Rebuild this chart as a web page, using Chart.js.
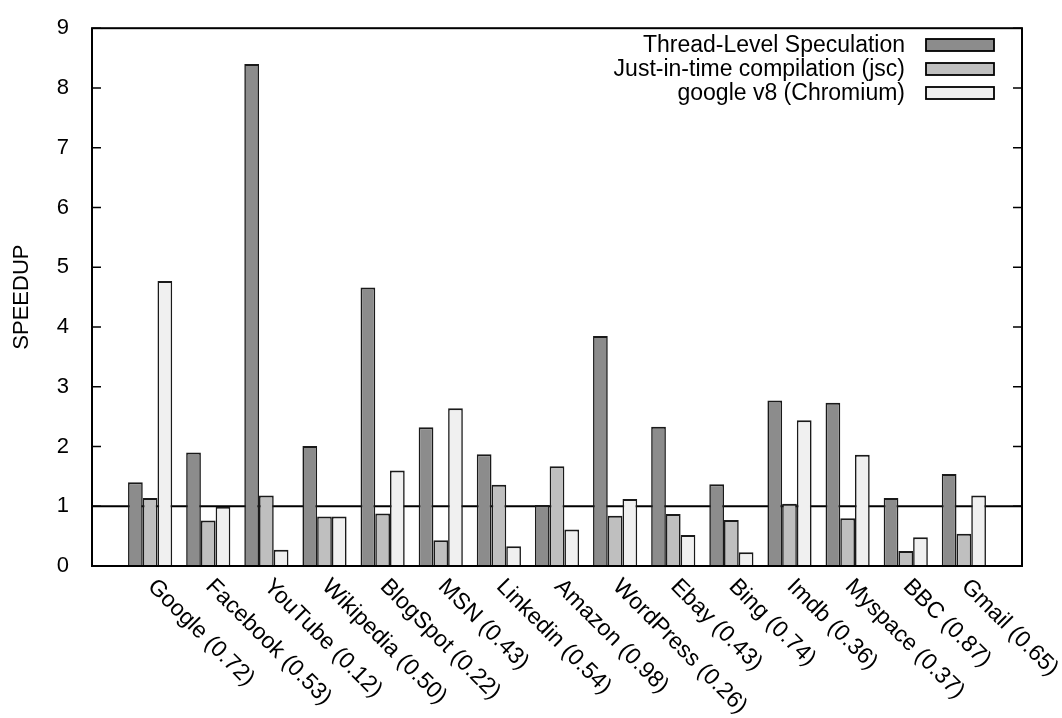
<!DOCTYPE html>
<html>
<head>
<meta charset="utf-8">
<script src="https://cdn.jsdelivr.net/npm/chart.js@4.4.1/dist/chart.umd.min.js"></script>
<style>
    body { margin: 0; background: #ffffff; }
    #wrap { width: 1062px; height: 718px; }
</style>
</head>
<body>
<div id="wrap"><canvas id="speedupChart" width="1062" height="718"></canvas></div>
<script>
const sites = [
    "Google (0.72)", "Facebook (0.53)", "YouTube (0.12)", "Wikipedia (0.50)",
    "BlogSpot (0.22)", "MSN (0.43)", "Linkedin (0.54)", "Amazon (0.98)",
    "WordPress (0.26)", "Ebay (0.43)", "Bing (0.74)", "Imdb (0.36)",
    "Myspace (0.37)", "BBC (0.87)", "Gmail (0.65)"
];

const seriesNames = [
    "Thread-Level Speculation",
    "Just-in-time compilation (jsc)",
    "google v8 (Chromium)"
];

const tls = [1.40, 1.90, 8.40, 2.01, 4.66, 2.32, 1.87, 1.02, 3.85, 2.33, 1.37, 2.77, 2.73, 1.14, 1.54];
const jsc = [1.14, 0.76, 1.18, 0.83, 0.88, 0.43, 1.36, 1.67, 0.84, 0.87, 0.77, 1.04, 0.80, 0.25, 0.54];
const v8 = [4.77, 0.99, 0.27, 0.83, 1.60, 2.64, 0.33, 0.61, 1.12, 0.52, 0.23, 2.44, 1.86, 0.48, 1.18];

const yTicks = [0, 1, 2, 3, 4, 5, 6, 7, 8, 9];
const baseline = 1;

const colors = ["#8c8c8c", "#bfbfbf", "#f0f0f0"];
const FONT = "Liberation Sans, Arial, Helvetica, sans-serif";

function toPoints(values) {
    return values.map((v, i) => ({ x: i, y: v }));
}

// frame, inward ticks, reference line, rotated labels, legend
const gnuplotLook = {
    id: "gnuplotLook",
    beforeDatasetsDraw(chart) {
        const { ctx, chartArea, scales } = chart;
        const y = scales.y.getPixelForValue(baseline);
        ctx.save();
        ctx.strokeStyle = "#000";
        ctx.lineWidth = 1.8;
        ctx.beginPath();
        ctx.moveTo(chartArea.left, y);
        ctx.lineTo(chartArea.right, y);
        ctx.stroke();
        ctx.restore();
    },
    afterDraw(chart) {
        const { ctx, chartArea, scales } = chart;
        ctx.save();

        ctx.strokeStyle = "#000";
        ctx.lineWidth = 1.5;
        yTicks.forEach(t => {
            const py = scales.y.getPixelForValue(t);
            ctx.beginPath();
            ctx.moveTo(chartArea.left, py);
            ctx.lineTo(chartArea.left + 9, py);
            ctx.moveTo(chartArea.right, py);
            ctx.lineTo(chartArea.right - 9, py);
            ctx.stroke();
        });

        ctx.lineWidth = 2;
        ctx.strokeRect(chartArea.left, chartArea.top,
            chartArea.right - chartArea.left, chartArea.bottom - chartArea.top);

        // x labels, rotated -45 like gnuplot
        ctx.fillStyle = "#000";
        ctx.font = "23px " + FONT;
        ctx.textAlign = "left";
        ctx.textBaseline = "middle";
        sites.forEach((name, i) => {
            const px = scales.x.getPixelForValue(i);
            ctx.save();
            ctx.translate(px + 1, chartArea.bottom + 17);
            ctx.rotate(Math.PI / 4);
            ctx.fillText(name, 0, 0);
            ctx.restore();
        });

        // legend
        const textRight = 905;
        const boxLeft = 926;
        const boxW = 68;
        const boxH = 12;
        ctx.textAlign = "right";
        seriesNames.forEach((name, i) => {
            const cy = 45 + i * 24;
            ctx.fillStyle = "#000";
            ctx.fillText(name, textRight, cy + 1);
            ctx.fillStyle = colors[i];
            ctx.fillRect(boxLeft, cy - boxH / 2, boxW, boxH);
            ctx.lineWidth = 1.8;
            ctx.strokeRect(boxLeft, cy - boxH / 2, boxW, boxH);
        });

        ctx.restore();
    }
};

const barStyle = {
    borderColor: "#1a1a1a",
    borderWidth: { top: 2, left: 1.6, right: 1.6, bottom: 0 },
    borderSkipped: false,
    categoryPercentage: 0.76,
    barPercentage: 1.0
};

const ctx = document.getElementById("speedupChart").getContext("2d");

new Chart(ctx, {
    type: "bar",
    data: {
        datasets: [
            { label: seriesNames[0], data: toPoints(tls), backgroundColor: colors[0], ...barStyle },
            { label: seriesNames[1], data: toPoints(jsc), backgroundColor: colors[1], ...barStyle },
            { label: seriesNames[2], data: toPoints(v8), backgroundColor: colors[2], ...barStyle }
        ]
    },
    options: {
        responsive: false,
        animation: false,
        layout: {
            padding: { left: 0, right: 40, top: 23, bottom: 152 }
        },
        plugins: {
            legend: { display: false },
            tooltip: { enabled: false }
        },
        scales: {
            x: {
                type: "linear",
                display: false,
                offset: false,
                min: -1,
                max: 15
            },
            y: {
                min: 0,
                max: 9,
                afterFit: scale => { scale.width = 92; },
                afterBuildTicks: scale => {
                    scale.ticks = yTicks.map(v => ({ value: v }));
                },
                grid: { display: false },
                border: { display: false },
                ticks: {
                    color: "#000",
                    padding: 15,
                    font: { family: FONT, size: 22 }
                },
                title: {
                    display: true,
                    text: "SPEEDUP",
                    color: "#000",
                    padding: { top: 9, bottom: 0 },
                    font: { family: FONT, size: 22 }
                }
            }
        }
    },
    plugins: [gnuplotLook]
});
</script>
</body>
</html>
